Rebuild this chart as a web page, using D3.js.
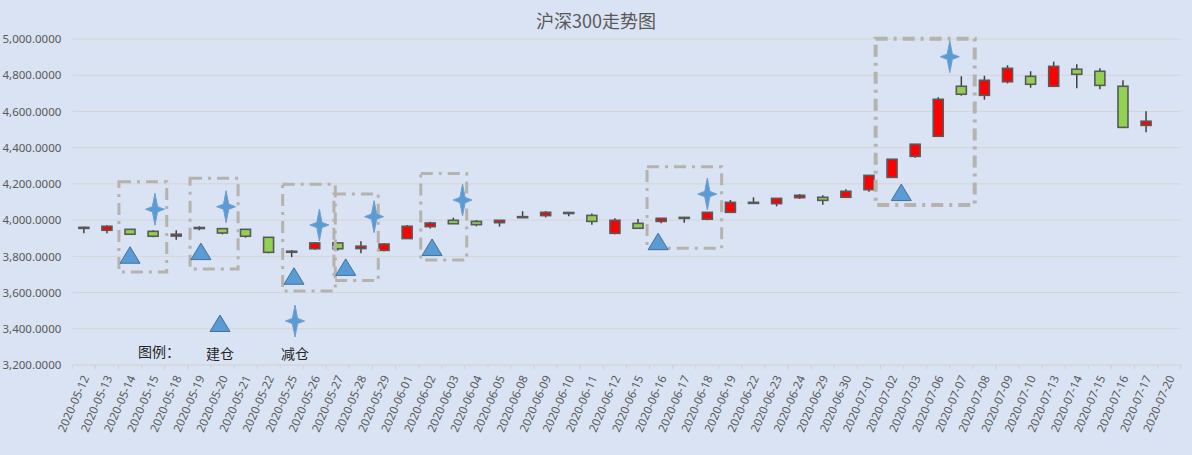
<!DOCTYPE html>
<html>
<head>
<meta charset="utf-8">
<script src="https://cdn.jsdelivr.net/npm/d3@7/dist/d3.min.js"></script>
<style>
  body { margin: 0; background: #dae3f3; }
  svg { display: block; }
</style>
</head>
<body>
<div id="chart"></div>
<script>
// Data

const dates = [
  "2020-05-12", "2020-05-13", "2020-05-14", "2020-05-15", "2020-05-18", "2020-05-19",
  "2020-05-20", "2020-05-21", "2020-05-22", "2020-05-25", "2020-05-26", "2020-05-27",
  "2020-05-28", "2020-05-29", "2020-06-01", "2020-06-02", "2020-06-03", "2020-06-04",
  "2020-06-05", "2020-06-08", "2020-06-09", "2020-06-10", "2020-06-11", "2020-06-12",
  "2020-06-15", "2020-06-16", "2020-06-17", "2020-06-18", "2020-06-19", "2020-06-22",
  "2020-06-23", "2020-06-24", "2020-06-29", "2020-06-30", "2020-07-01", "2020-07-02",
  "2020-07-03", "2020-07-06", "2020-07-07", "2020-07-08", "2020-07-09", "2020-07-10",
  "2020-07-13", "2020-07-14", "2020-07-15", "2020-07-16", "2020-07-17", "2020-07-20",
];

const open = [
  3960, 3944, 3949, 3938, 3912, 3956, 3953, 3949, 3905, 3826, 3842, 3874,
  3843, 3833, 3898, 3964, 3999, 3993, 3986, 4016, 4025, 4042, 4026, 3927,
  3982, 3993, 4013, 4005, 4043, 4096, 4091, 4124, 4126, 4126, 4168, 4236,
  4352, 4463, 4739, 4689, 4764, 4794, 4739, 4833, 4822, 4739, 4523, null,
];
const close = [
  3957, 3966, 3922, 3911, 3922, 3959, 3929, 3911, 3822, 3828, 3874, 3842,
  3856, 3868, 3966, 3984, 3980, 3975, 3999, 4019, 4043, 4040, 3993, 3999,
  3955, 4010, 4015, 4043, 4098, 4098, 4120, 4137, 4109, 4159, 4247, 4336,
  4419, 4667, 4695, 4772, 4838, 4750, 4849, 4805, 4744, 4512, 4546, null,
];
const high = [
  3964, 3971, 3951, 3944, 3944, 3966, 3955, 3950, 3906, 3835, 3876, 3876,
  3883, 3874, 3973, 3991, 4013, 4000, 4000, 4049, 4050, 4045, 4037, 4010,
  4006, 4011, 4016, 4044, 4111, 4126, 4121, 4144, 4137, 4170, 4248, 4337,
  4420, 4678, 4794, 4797, 4855, 4822, 4875, 4860, 4838, 4772, 4601, null,
];
const low = [
  3927, 3927, 3920, 3905, 3892, 3944, 3921, 3903, 3817, 3795, 3837, 3832,
  3817, 3828, 3897, 3953, 3979, 3966, 3964, 4014, 4015, 4021, 3975, 3922,
  3954, 3982, 3986, 3999, 4042, 4093, 4076, 4117, 4085, 4125, 4157, 4235,
  4345, 4462, 4687, 4665, 4755, 4731, 4738, 4728, 4722, 4511, 4485, null,
];

const yTicks = [3200, 3400, 3600, 3800, 4000, 4200, 4400, 4600, 4800, 5000];

// annotation marks: category position (index, may be fractional) and value
const buyPos = [2.0, 5.07, 9.1, 11.34, 15.08, 24.87, 35.4];
const buyVal = [3806, 3826, 3690, 3739, 3849, 3881, 4152];
const sellPos = [3.08, 6.16, 10.2, 12.57, 16.4, 27.0, 37.5];
const sellVal = [4060, 4074, 3973, 4019, 4111, 4144, 4902];

// dashed boxes: [from index, to index, top value, bottom value]
const boxes = [
  [1.52, 3.59, 4212, 3713],
  [4.6, 6.68, 4231, 3730],
  [8.61, 10.89, 4198, 3609],
  [10.83, 12.75, 4144, 3666],
  [14.59, 16.58, 4258, 3780],
  [24.39, 27.62, 4294, 3844],
  [34.29, 38.58, 5002, 4083],
];

// Chart

const width = 1192;
const height = 455;
const plot = { left: 72.3, right: 1180.7, top: 39, bottom: 365 };

const svg = d3
  .select("#chart")
  .append("svg")
  .attr("width", width)
  .attr("height", height)
  .style("background", "#dae3f3");

const xScale = d3
  .scaleBand()
  .domain(dates)
  .range([plot.left, plot.right])
  .padding(0);

// same category axis as a continuous scale, for marks placed between categories
const xPos = d3
  .scaleLinear()
  .domain([-0.5, dates.length - 0.5])
  .range([plot.left, plot.right]);

const yScale = d3.scaleLinear().domain([3200, 5000]).range([plot.bottom, plot.top]);

// Title
svg
  .append("text")
  .attr("x", 596)
  .attr("y", 28)
  .attr("text-anchor", "middle")
  .style("font-family", "'Noto Sans CJK SC', 'Noto Sans', sans-serif")
  .style("font-size", "18px")
  .style("fill", "#595959")
  .text("沪深300走势图");

// Grid + y labels
svg
  .append("g")
  .selectAll("line")
  .data(yTicks.slice(1))
  .enter()
  .append("line")
  .attr("x1", plot.left)
  .attr("x2", plot.right)
  .attr("y1", (d) => yScale(d))
  .attr("y2", (d) => yScale(d))
  .style("stroke", "#d4d4d4")
  .style("stroke-width", 1);

svg
  .append("g")
  .attr("transform", `translate(${plot.left - 8},0)`)
  .call(d3.axisLeft(yScale).tickValues(yTicks).tickFormat(d3.format(",.4f")).tickSize(0))
  .call((g) => g.select(".domain").remove())
  .selectAll("text")
  .style("font-family", "'Noto Sans', sans-serif")
  .style("font-size", "11.5px")
  .style("fill", "#595959");

// X axis
svg
  .append("line")
  .attr("x1", plot.left)
  .attr("x2", plot.right)
  .attr("y1", plot.bottom)
  .attr("y2", plot.bottom)
  .style("stroke", "#d0d0d0")
  .style("stroke-width", 1);

svg
  .append("g")
  .selectAll("line")
  .data(d3.range(dates.length + 1))
  .enter()
  .append("line")
  .attr("x1", (d) => xPos(d - 0.5))
  .attr("x2", (d) => xPos(d - 0.5))
  .attr("y1", plot.bottom)
  .attr("y2", plot.bottom + 4)
  .style("stroke", "#d0d0d0");

svg
  .append("g")
  .selectAll("text")
  .data(dates)
  .enter()
  .append("text")
  .attr(
    "transform",
    (d) => `translate(${xScale(d) + xScale.bandwidth() / 2 + 2},${plot.bottom + 11}) rotate(-66)`
  )
  .attr("text-anchor", "end")
  .attr("dy", "0.35em")
  .style("font-family", "'Noto Sans', sans-serif")
  .style("font-size", "11.6px")
  .style("fill", "#595959")
  .text((d) => d);

// Candles
const candles = dates
  .map((d, i) => ({ date: d, o: open[i], c: close[i], h: high[i], l: low[i] }))
  .filter((d) => d.o !== null);

const bodyW = 10;

const candle = svg.append("g").selectAll("g").data(candles).enter().append("g");

candle
  .append("line")
  .attr("x1", (d) => xScale(d.date) + xScale.bandwidth() / 2)
  .attr("x2", (d) => xScale(d.date) + xScale.bandwidth() / 2)
  .attr("y1", (d) => yScale(d.h))
  .attr("y2", (d) => yScale(d.l))
  .style("stroke", "#404040")
  .style("stroke-width", 1.5);

candle
  .append("rect")
  .attr("x", (d) => xScale(d.date) + xScale.bandwidth() / 2 - bodyW / 2)
  .attr("width", bodyW)
  .attr("y", (d) => yScale(Math.max(d.o, d.c)))
  .attr("height", (d) => Math.max(1, Math.abs(yScale(d.o) - yScale(d.c))))
  .style("fill", (d) => (d.c >= d.o ? "#ff0000" : "#92d050"))
  .style("stroke", "#595959")
  .style("stroke-width", 1.6);

// Dashed boxes
svg
  .append("g")
  .selectAll("rect")
  .data(boxes)
  .enter()
  .append("rect")
  .attr("x", (d) => xPos(d[0]))
  .attr("width", (d) => xPos(d[1]) - xPos(d[0]))
  .attr("y", (d) => yScale(d[2]))
  .attr("height", (d) => yScale(d[3]) - yScale(d[2]))
  .style("fill", "none")
  .style("stroke", "#b6b2ad")
  .style("stroke-width", (d, i) => (i === boxes.length - 1 ? 4 : 3))
  .style("stroke-dasharray", "12,6,3,6");

// Marker shapes
const triPath = "M0,-8.5L10,8L-10,8Z";
const starPath = "M0,-16L2.6,-2.6L9.5,0L2.6,2.6L0,16L-2.6,2.6L-9.5,0L-2.6,-2.6Z";

function drawTriangle(g, x, y) {
  g.append("path")
    .attr("d", triPath)
    .attr("transform", `translate(${x},${y})`)
    .style("fill", "#5b9bd5")
    .style("stroke", "#41719c")
    .style("stroke-width", 1);
}

function drawStar(g, x, y) {
  g.append("path")
    .attr("d", starPath)
    .attr("transform", `translate(${x},${y})`)
    .style("fill", "#5b9bd5")
    .style("stroke", "#6f9fcf")
    .style("stroke-width", 1);
}

const marks = svg.append("g");
buyPos.forEach((p, i) => drawTriangle(marks, xPos(p), yScale(buyVal[i])));
sellPos.forEach((p, i) => drawStar(marks, xPos(p), yScale(sellVal[i])));

// Legend
const legend = svg.append("g").style("font-family", "'Noto Sans CJK SC', sans-serif");
legend
  .append("text")
  .attr("x", 138)
  .attr("y", 357)
  .style("font-size", "14px")
  .style("fill", "#262626")
  .text("图例：");
drawTriangle(legend, 220, 323.5);
legend
  .append("text")
  .attr("x", 220)
  .attr("y", 359)
  .attr("text-anchor", "middle")
  .style("font-size", "14px")
  .style("fill", "#262626")
  .text("建仓");
drawStar(legend, 295, 321);
legend
  .append("text")
  .attr("x", 295)
  .attr("y", 359)
  .attr("text-anchor", "middle")
  .style("font-size", "14px")
  .style("fill", "#262626")
  .text("减仓");
</script>
</body>
</html>
